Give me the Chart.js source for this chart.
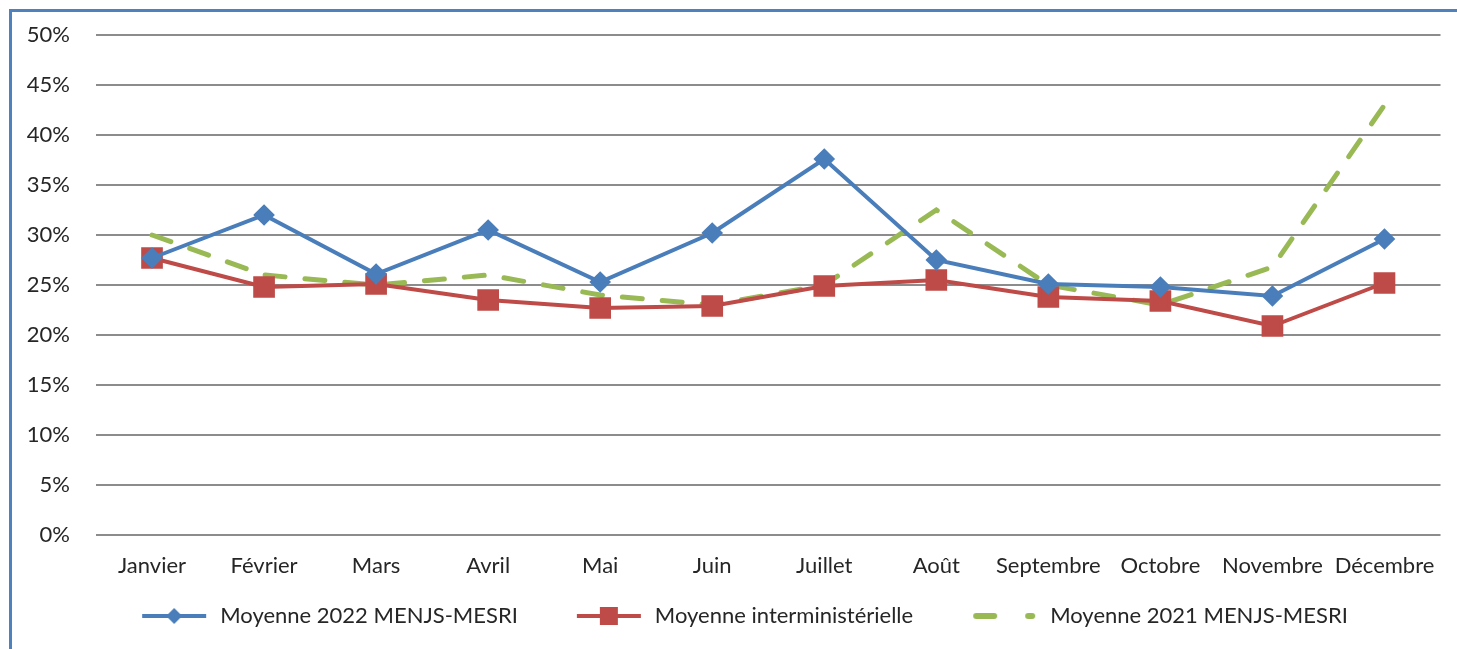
<!DOCTYPE html>
<html>
<head>
<meta charset="utf-8">
<script src="https://cdn.jsdelivr.net/npm/chart.js@4/dist/chart.umd.min.js"></script>
<style>
  html, body { margin: 0; padding: 0; background: #fff; }
  #wrap { position: relative; width: 1457px; height: 649px; overflow: hidden; }
  #frame { position: absolute; left: 9px; top: 9px; width: 1460px; height: 660px;
           border-left: 3px solid #4F81BD; border-top: 3px solid #4F81BD; box-sizing: border-box; }
  canvas { position: absolute; left: 0; top: 0; }
</style>
</head>
<body>
<div id="wrap">
  <div id="frame"></div>
  <canvas id="c" width="1457" height="649"></canvas>
</div>
<script>
const months = ["Janvier","Février","Mars","Avril","Mai","Juin","Juillet","Août","Septembre","Octobre","Novembre","Décembre"];
const seriesNames = ["Moyenne 2022 MENJS-MESRI","Moyenne interministérielle","Moyenne 2021 MENJS-MESRI"];
const moy2022 = [27.7, 32.0, 26.1, 30.5, 25.3, 30.2, 37.6, 27.5, 25.1, 24.8, 23.9, 29.6];
const moyInter = [27.7, 24.8, 25.1, 23.5, 22.7, 22.9, 24.9, 25.5, 23.8, 23.4, 20.9, 25.2];
const moy2021 = [30.0, 26.0, 25.0, 26.0, 24.0, 23.0, 25.0, 32.5, 25.0, 23.0, 26.8, 43.0];
const yTicks = [0, 5, 10, 15, 20, 25, 30, 35, 40, 45, 50];

const BLUE = '#4A7EBB', RED = '#BE4B48', GREEN = '#98B954';
const TEXT = '#262626';
const FONT = 'Lato, "Open Sans", sans-serif';
const GAP = 52; // extra blank space before each legend sample

function legendIcon(color, style, dashed) {
  const cv = document.createElement('canvas');
  cv.width = 64 + 2 * GAP; cv.height = 22;
  const g = cv.getContext('2d');
  const x0 = 1.5 * GAP - 3;
  g.strokeStyle = color; g.fillStyle = color;
  if (dashed) {
    g.lineWidth = 6; g.lineCap = 'round';
    g.beginPath(); g.moveTo(x0 + 4, 11); g.lineTo(x0 + 22, 11); g.stroke();
    g.beginPath(); g.moveTo(x0 + 56, 11); g.lineTo(x0 + 60, 11); g.stroke();
  } else {
    g.lineWidth = 4;
    g.beginPath(); g.moveTo(x0, 11); g.lineTo(x0 + 64, 11); g.stroke();
    g.beginPath();
    if (style === 'diamond') {
      g.moveTo(x0 + 32, 3); g.lineTo(x0 + 40, 11); g.lineTo(x0 + 32, 19); g.lineTo(x0 + 24, 11); g.closePath();
    } else {
      g.rect(x0 + 23, 2, 18, 18);
    }
    g.fill();
  }
  return cv;
}
const icons = [legendIcon(BLUE, 'diamond'), legendIcon(RED, 'square'), legendIcon(GREEN, null, true)];

new Chart(document.getElementById('c'), {
  type: 'line',
  data: {
    labels: months,
    datasets: [
      { label: seriesNames[0], data: moy2022, borderColor: BLUE, backgroundColor: BLUE,
        borderWidth: 4, pointStyle: 'rectRot', pointRadius: 8, pointHoverRadius: 8, tension: 0, order: 1 },
      { label: seriesNames[1], data: moyInter, borderColor: RED, backgroundColor: RED,
        borderWidth: 4, pointStyle: 'rect', pointRadius: 12.5, pointHoverRadius: 12.5, tension: 0, order: 2 },
      { label: seriesNames[2], data: moy2021, borderColor: GREEN, backgroundColor: GREEN,
        borderWidth: 5, borderDash: [20, 20], borderCapStyle: 'round', pointRadius: 0, tension: 0, order: 3 }
    ]
  },
  options: {
    responsive: false,
    animation: false,
    devicePixelRatio: 1,
    layout: { padding: { top: 35, right: 16, bottom: 12, left: 0 } },
    plugins: {
      tooltip: { enabled: false },
      legend: {
        position: 'bottom',
        labels: {
          usePointStyle: true,
          pointStyleWidth: 64 + GAP,
          padding: 10,
          color: TEXT,
          font: { family: FONT, size: 22 },
          generateLabels: (chart) => chart.data.datasets.map((ds, i) => ({
            text: ds.label, pointStyle: icons[i], fillStyle: ds.borderColor,
            strokeStyle: ds.borderColor, lineWidth: 0, datasetIndex: i, hidden: false, fontColor: TEXT
          }))
        }
      }
    },
    scales: {
      x: {
        offset: true,
        grid: { display: false, drawTicks: false },
        border: { display: false },
        ticks: { color: TEXT, font: { family: FONT, size: 22 }, padding: 18, maxRotation: 0, autoSkip: false },
        afterFit: (s) => { s.height = 60; }
      },
      y: {
        min: 0, max: 50,
        afterBuildTicks: (s) => { s.ticks = yTicks.map(v => ({ value: v })); },
        grid: { color: '#8C8C8C', lineWidth: 2, drawTicks: false },
        border: { display: false },
        ticks: { color: TEXT, font: { family: FONT, size: 22 }, padding: 26,
                 callback: (v) => v + '%' },
        afterFit: (s) => { s.width = 96; s.paddingTop = 0; s.paddingBottom = 0; }
      }
    }
  }
});
</script>
</body>
</html>
